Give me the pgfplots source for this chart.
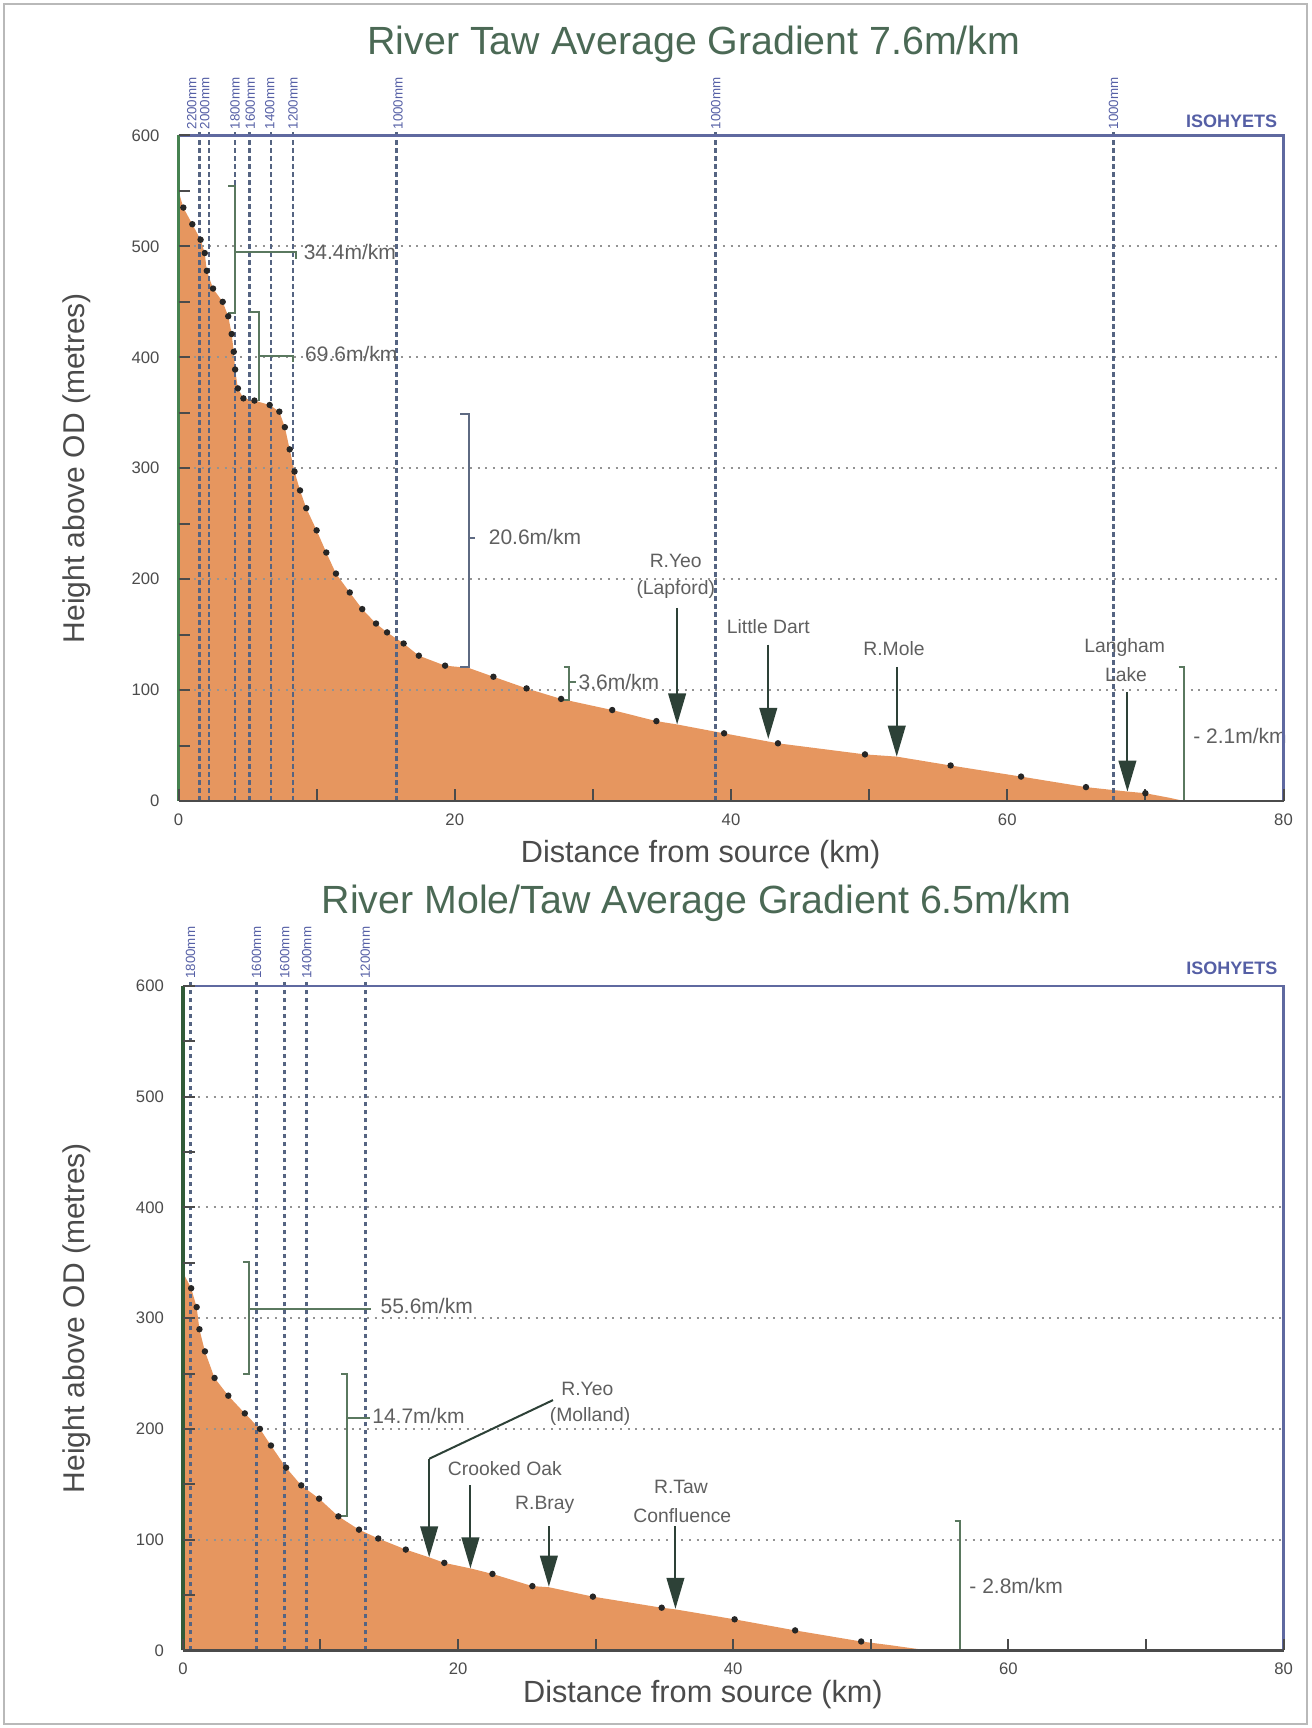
\documentclass[border=0pt]{standalone}
\usepackage{fontspec}
\setmainfont{Liberation Sans}
\usepackage{pgfplots}
\pgfplotsset{compat=1.18}
\usetikzlibrary{arrows.meta}

\definecolor{fillc}{RGB}{230,150,95}
\definecolor{titlec}{RGB}{75,105,85}
\definecolor{labc}{RGB}{75,75,75}
\definecolor{isoc}{RGB}{85,100,130}
\definecolor{isotxt}{RGB}{85,95,165}
\definecolor{framec}{RGB}{95,105,160}
\definecolor{leftc}{RGB}{70,130,80}
\definecolor{brc}{RGB}{90,120,95}
\definecolor{arrc}{RGB}{45,65,55}
\definecolor{annc}{RGB}{95,95,95}

\pgfplotsset{
 profile/.style={
  scale only axis, xmin=0, xmax=80, ymin=0, ymax=600, clip=false,
  axis line style={draw=none},
  xtick={0,20,...,80}, minor xtick={10,30,50,70},
  ytick={0,100,...,600}, minor ytick={50,150,...,550},
  xtick pos=bottom, ytick pos=left, tick align=inside,
  major tick length=3.5pt, minor tick length=3.5pt,
  tick style={labc, line width=0.6pt},
  ticklabel style={font=\fontsize{5}{6}\selectfont, text=labc},
  yticklabel style={xshift=-2.2pt},
  xticklabel style={yshift=-0.3pt},
  /pgf/number format/assume math mode=true,
  axis on top,
 },
}
\tikzset{
 gridst/.style={gray!85, line width=0.6pt, dash pattern=on 0.6pt off 1.7pt},
 isost/.style={isoc, line width=0.8pt, dash pattern=on 1.4pt off 1pt},
 isolab/.style={rotate=90, anchor=west, inner sep=0pt, font=\fontsize{4}{5}\selectfont, text=isotxt},
 brst/.style={brc, line width=0.6pt},
 annst/.style={font=\fontsize{6.3}{7}\selectfont, text=annc, inner sep=0.5pt},
 rivst/.style={font=\fontsize{5.8}{6.5}\selectfont, text=annc, inner sep=0.5pt},
 arr/.style={draw=arrc, line width=0.6pt, -{Triangle[width=5.3pt,length=9.3pt]}},
 dots/.style={only marks, mark=*, mark size=0.75pt, black!85},
}

\begin{document}
\begin{tikzpicture}
\useasboundingbox (0,0) rectangle (393.3pt,518.4pt);
\draw[gray!55, line width=0.8pt] (1.2pt,1.2pt) rectangle (392.1pt,517.2pt);

% ---------------- River Taw ----------------
\begin{axis}[profile, at={(53.55pt,278.1pt)}, anchor=south west, width=331.5pt, height=199.65pt]
\addplot[fill=fillc, draw=none] coordinates {
(0,550) (0.35,535) (1.0,520) (1.6,506) (1.9,494) (2.05,478) (2.5,462) (3.2,450)
(3.6,437) (3.85,421) (4.0,405) (4.1,389) (4.3,372) (4.7,363) (5.5,361) (6.6,357)
(7.3,351) (7.7,337) (8.05,317) (8.4,297) (8.8,280) (9.25,264) (10.0,244) (10.7,224)
(11.4,205) (12.4,188) (13.3,173) (14.3,160) (15.1,152) (16.3,142) (17.4,131) (19.3,122)
(21.0,120) (22.8,112) (25.2,101.5) (27.7,92) (31.4,82) (34.6,72) (36.1,69) (39.5,61)
(43.4,52) (49.7,42) (52.0,40) (55.9,32) (61.0,22) (65.7,12.5) (68.7,8.5) (70.0,7) (71.7,3) (72.8,0)
} \closedcycle;
\pgfplotsinvokeforeach{100,200,300,400,500}{\draw[gridst] (axis cs:0,#1) -- (axis cs:80,#1);}
\pgfplotsinvokeforeach{1.5,2.2,4.1,5.15,6.7,8.3,15.8,38.9,67.7}{\draw[isost] (axis cs:#1,0) -- (axis cs:#1,604);}
\node[isolab] at (axis cs:0.96,605) {2200mm};
\node[isolab] at (axis cs:1.9,605) {2000mm};
\node[isolab] at (axis cs:4.1,605) {1800mm};
\node[isolab] at (axis cs:5.2,605) {1600mm};
\node[isolab] at (axis cs:6.6,605) {1400mm};
\node[isolab] at (axis cs:8.3,605) {1200mm};
\node[isolab] at (axis cs:15.9,605) {1000mm};
\node[isolab] at (axis cs:38.9,605) {1000mm};
\node[isolab] at (axis cs:67.7,605) {1000mm};
\node[font=\bfseries\fontsize{5.4}{6}\selectfont, text=isotxt] at (rel axis cs:0.953,1) [yshift=4.4pt] {ISOHYETS};
\addplot[dots] coordinates {
(0.35,535) (1.0,520) (1.6,506) (1.9,494) (2.05,478) (2.5,462) (3.2,450) (3.6,437)
(3.85,421) (4.0,405) (4.1,389) (4.3,372) (4.7,363) (5.5,361) (6.6,357) (7.3,351)
(7.7,337) (8.05,317) (8.4,297) (8.8,280) (9.25,264) (10.0,244) (10.7,224) (11.4,205)
(12.4,188) (13.3,173) (14.3,160) (15.1,152) (16.3,142) (17.4,131) (19.3,122) (22.8,112)
(25.2,101.5) (27.7,92) (31.4,82) (34.6,72) (39.5,61) (43.4,52) (49.7,42) (55.9,32)
(61.0,22) (65.7,12.5) (70.0,7)
};
% gradient brackets
\draw[brst] (axis cs:3.6,554) -- (axis cs:4.1,554) -- (axis cs:4.1,440) -- (axis cs:3.6,440);
\draw[brst] (axis cs:4.1,495) -- (axis cs:8.5,495) -- (axis cs:8.5,489);
\node[annst, anchor=west] at (axis cs:8.9,495) {34.4m/km};
\draw[brst] (axis cs:5.2,441) -- (axis cs:5.8,441) -- (axis cs:5.8,361);
\draw[brst] (axis cs:5.8,401) -- (axis cs:8.3,401) -- (axis cs:8.3,396);
\node[annst, anchor=west] at (axis cs:9.0,403) {69.6m/km};
\draw[brst, isoc!80!gray] (axis cs:20.4,349) -- (axis cs:21.0,349) -- (axis cs:21.0,121) -- (axis cs:20.4,121);
\draw[brst, isoc!80!gray] (axis cs:21.0,237) -- (axis cs:21.5,237);
\node[annst, anchor=west] at (axis cs:22.3,238) {20.6m/km};
\draw[brst] (axis cs:27.9,121) -- (axis cs:28.3,121) -- (axis cs:28.3,91) -- (axis cs:27.9,91);
\draw[brst] (axis cs:28.3,107) -- (axis cs:28.8,107);
\node[annst, anchor=west] at (axis cs:28.8,107) {3.6m/km};
\draw[brst] (axis cs:72.4,121) -- (axis cs:72.8,121) -- (axis cs:72.8,0);
\node[annst, anchor=west] at (axis cs:73.3,59) {- 2.1m/km};
% tributaries
\node[rivst] at (axis cs:36.0,216) {R.Yeo};
\node[rivst] at (axis cs:36.0,191) {(Lapford)};
\draw[arr] (axis cs:36.1,174) -- (axis cs:36.1,69);
\node[rivst] at (axis cs:42.7,157) {Little Dart};
\draw[arr] (axis cs:42.7,141) -- (axis cs:42.7,56);
\node[rivst] at (axis cs:51.8,137) {R.Mole};
\draw[arr] (axis cs:52.0,121) -- (axis cs:52.0,40);
\node[rivst] at (axis cs:68.5,138) {Langham};
\node[rivst] at (axis cs:68.6,114) {Lake};
\draw[arr] (axis cs:68.7,98) -- (axis cs:68.7,8.5);
% frame
\draw[framec, line width=0.8pt] (rel axis cs:0,1) -- (rel axis cs:1,1) -- (rel axis cs:1,0);
\draw[leftc, line width=1pt] (rel axis cs:0,0) -- (rel axis cs:0,1);
\draw[labc, line width=0.8pt] (rel axis cs:0,0) -- (rel axis cs:1,0);
% titles
\node[font=\fontsize{11.8}{14}\selectfont, text=titlec] at (rel axis cs:0.4665,1) [yshift=27.4pt] {River Taw Average Gradient 7.6m/km};
\node[font=\fontsize{9.2}{11}\selectfont, text=labc] at (rel axis cs:0.4726,0) [yshift=-16.2pt] {Distance from source (km)};
\node[font=\fontsize{9.0}{11}\selectfont, text=labc, xshift=-30.4pt, rotate=90] at (rel axis cs:0,0.5) {Height above OD (metres)};
\end{axis}

% ---------------- River Mole/Taw ----------------
\begin{axis}[profile, at={(54.87pt,23.3pt)}, anchor=south west, width=330.2pt, height=199.3pt]
\addplot[fill=fillc, draw=none] coordinates {
(0,340) (0.1,339) (0.6,327) (1.0,310) (1.2,290) (1.6,270) (2.3,246) (3.3,230)
(4.5,214) (5.6,200) (6.4,185) (7.5,165) (8.6,149) (9.9,137) (11.3,121) (12.8,109)
(14.2,101) (16.2,91) (17.9,84) (19.0,79) (20.9,74) (22.5,69) (25.4,58) (26.6,57)
(29.8,48.5) (34.8,38.5) (35.8,37) (40.1,28) (44.5,18) (49.3,8) (51.5,4.5) (54.1,0)
} \closedcycle;
\pgfplotsinvokeforeach{100,200,300,400,500}{\draw[gridst] (axis cs:0,#1) -- (axis cs:80,#1);}
\pgfplotsinvokeforeach{0.55,5.35,7.4,9.0,13.25}{\draw[isost] (axis cs:#1,0) -- (axis cs:#1,604);}
\node[isolab] at (axis cs:0.55,606) {1800mm};
\node[isolab] at (axis cs:5.35,606) {1600mm};
\node[isolab] at (axis cs:7.4,606) {1600mm};
\node[isolab] at (axis cs:9.0,606) {1400mm};
\node[isolab] at (axis cs:13.25,606) {1200mm};
\node[font=\bfseries\fontsize{5.4}{6}\selectfont, text=isotxt] at (rel axis cs:0.953,1) [yshift=5.3pt] {ISOHYETS};
\addplot[dots] coordinates {
(0.6,327) (1.0,310) (1.2,290) (1.6,270) (2.3,246) (3.3,230) (4.5,214) (5.6,200)
(6.4,185) (7.5,165) (8.6,149) (9.9,137) (11.3,121) (12.8,109) (14.2,101) (16.2,91)
(19.0,79) (22.5,69) (25.4,58) (29.8,48.5) (34.8,38.5) (40.1,28) (44.5,18) (49.3,8)
};
% gradient brackets
\draw[brst] (axis cs:4.4,351) -- (axis cs:4.8,351) -- (axis cs:4.8,250) -- (axis cs:4.4,250);
\draw[brst] (axis cs:4.8,308) -- (axis cs:13.7,308);
\node[annst, anchor=west] at (axis cs:14.2,311) {55.6m/km};
\draw[brst] (axis cs:11.5,250) -- (axis cs:11.9,250) -- (axis cs:11.9,121) -- (axis cs:11.3,121);
\draw[brst] (axis cs:11.9,210) -- (axis cs:13.6,210);
\node[annst, anchor=west] at (axis cs:13.6,212) {14.7m/km};
\draw[brst] (axis cs:56.1,117) -- (axis cs:56.5,117) -- (axis cs:56.5,0);
\node[annst, anchor=west] at (axis cs:57.0,58) {- 2.8m/km};
% tributaries
\node[rivst] at (axis cs:29.4,236) {R.Yeo};
\node[rivst] at (axis cs:29.6,211) {(Molland)};
\draw[arrc, line width=0.6pt] (axis cs:26.9,226) -- (axis cs:17.9,173);
\draw[arr] (axis cs:17.9,173) -- (axis cs:17.9,84);
\node[rivst] at (axis cs:23.4,164) {Crooked Oak};
\draw[arr] (axis cs:20.9,149) -- (axis cs:20.9,74);
\node[rivst] at (axis cs:26.3,131) {R.Bray};
\draw[arr] (axis cs:26.6,112) -- (axis cs:26.6,57.5);
\node[rivst] at (axis cs:36.2,148) {R.Taw};
\node[rivst] at (axis cs:36.3,122) {Confluence};
\draw[arr] (axis cs:35.8,112) -- (axis cs:35.8,37.5);
% frame
\draw[framec, line width=0.8pt] (rel axis cs:0,1) -- (rel axis cs:1,1) -- (rel axis cs:1,0);
\draw[leftc!70!black, line width=1.3pt] (rel axis cs:0,0) -- (rel axis cs:0,1);
\draw[labc, line width=0.8pt] (rel axis cs:0,0) -- (rel axis cs:1,0);
% titles
\node[font=\fontsize{11.8}{14}\selectfont, text=titlec] at (rel axis cs:0.4665,1) [yshift=24.8pt] {River Mole/Taw Average Gradient 6.5m/km};
\node[font=\fontsize{9.2}{11}\selectfont, text=labc] at (rel axis cs:0.4725,0) [yshift=-13.4pt] {Distance from source (km)};
\node[font=\fontsize{9.0}{11}\selectfont, text=labc, xshift=-31.8pt, rotate=90] at (rel axis cs:0,0.5) {Height above OD (metres)};
\end{axis}
\end{tikzpicture}
\end{document}
